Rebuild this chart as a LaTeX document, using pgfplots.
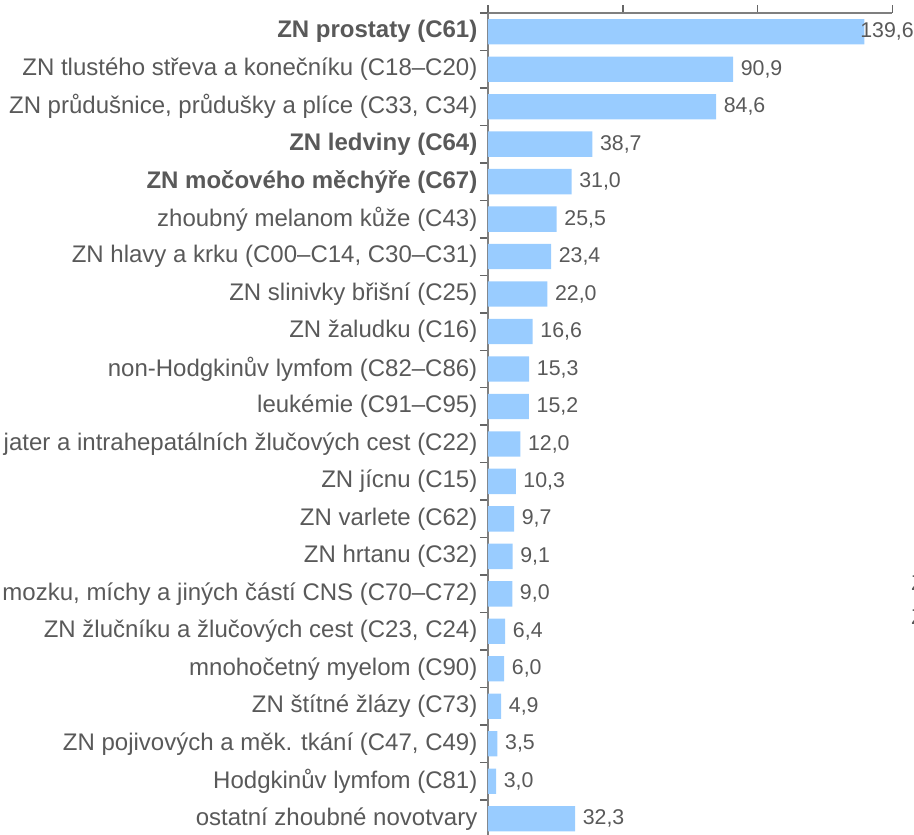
\documentclass[border=0pt]{standalone}
\usepackage{pgfplots}
\usepackage{pgfplotstable}
\pgfplotsset{compat=1.18}
\usepackage{fontspec}
\setmainfont{Liberation Sans}
\definecolor{labelgray}{HTML}{595959}
\definecolor{axisgray}{HTML}{7F7F7F}
\definecolor{tickgray}{HTML}{666666}
\definecolor{barblue}{HTML}{99CCFF}
\pgfplotstableread{
y x s
0 139.6 -3.2
1 90.9 5.6
2 84.6 5.6
3 38.7 5.6
4 31.0 5.6
5 25.5 5.6
6 23.4 5.6
7 22.0 5.6
8 16.6 5.6
9 15.3 5.6
10 15.2 5.6
11 12.0 5.6
12 10.3 5.6
13 9.7 5.6
14 9.1 5.6
15 9.0 5.6
16 6.4 5.6
17 6.0 5.6
18 4.9 5.6
19 3.5 5.6
20 3.0 5.6
21 32.3 5.6
}\datatable
\begin{document}
\begin{tikzpicture}
\begin{axis}[
  at={(0,0)}, anchor=south west,
  scale only axis, width=303.3pt, height=618.3pt,
  xmin=0, xmax=150, ymin=-0.5, ymax=21.5, y dir=reverse,
  axis x line*=top, axis y line*=left,
  axis line style={draw=axisgray, line width=1.5pt},
  clip=false,
  tick align=outside,
  major tick length=0pt,
  minor tick length=6pt,
  xtick={0,50,100,150},
  xticklabels={},
  minor xtick={0,50,100,150},
  minor x tick style={draw=tickgray, line width=1.1pt},
  ytick={0,...,21},
  yticklabels={
    \textbf{ZN prostaty (C61)},
    ZN tlustého střeva a konečníku (C18–C20),
    {ZN průdušnice, průdušky a plíce (C33, C34)},
    \textbf{ZN ledviny (C64)},
    \textbf{ZN močového měchýře (C67)},
    zhoubný melanom kůže (C43),
    {ZN hlavy a krku (C00–C14, C30–C31)},
    ZN slinivky břišní (C25),
    ZN žaludku (C16),
    non-Hodgkinův lymfom (C82–C86),
    leukémie (C91–C95),
    ZN jater a intrahepatálních žlučových cest (C22),
    ZN jícnu (C15),
    ZN varlete (C62),
    ZN hrtanu (C32),
    {ZN mozku, míchy a jiných částí CNS (C70–C72)},
    {ZN žlučníku a žlučových cest (C23, C24)},
    mnohočetný myelom (C90),
    ZN štítné žlázy (C73),
    {ZN pojivových a měk. tkání (C47, C49)},
    Hodgkinův lymfom (C81),
    ostatní zhoubné novotvary
  },
  minor ytick={-0.5,0.5,...,21.5},
  minor y tick style={draw=tickgray, line width=1.1pt},
  yticklabel style={font=\fontsize{18}{20}\selectfont, text=labelgray, anchor=east, inner sep=0pt, xshift=-7.8pt},
]
\addplot[xbar, bar width=19pt, fill=barblue, draw=none,
  point meta=x,
  visualization depends on={\thisrow{s} \as \myshift},
  nodes near coords={\pgfmathprintnumber[fixed, fixed zerofill, precision=1, use comma, assume math mode=true]{\pgfplotspointmeta}},
  nodes near coords style={font=\fontsize{16}{18}\selectfont, text=labelgray, anchor=west, inner sep=0pt, xshift=\myshift pt},
] table[x=x, y=y] {\datatable};
\end{axis}
\node[anchor=base west, inner sep=0pt, font=\fontsize{16}{18}\selectfont, text=labelgray] at (317.25pt,185.5pt) {ZN};
\node[anchor=base west, inner sep=0pt, font=\fontsize{16}{18}\selectfont, text=labelgray] at (317.25pt,159.3pt) {ZN};
\pgfresetboundingbox
\path[use as bounding box] (-366pt,1.8pt) rectangle (319.5pt,628.05pt);
\end{tikzpicture}
\end{document}
